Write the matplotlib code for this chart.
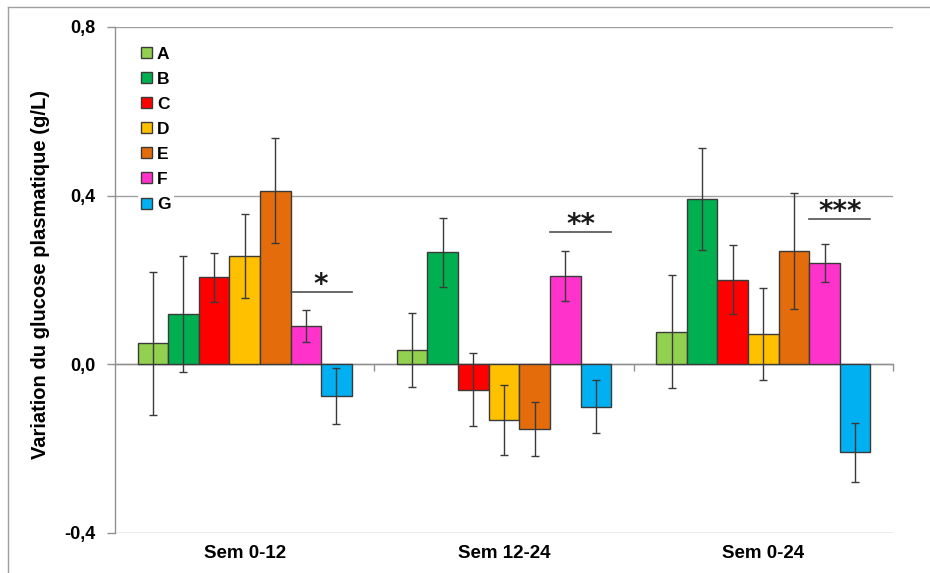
import matplotlib
matplotlib.use("Agg")
import matplotlib.pyplot as plt
import numpy as np
from matplotlib.patches import Patch
from matplotlib.lines import Line2D

plt.rcParams['font.family'] = ['Liberation Sans', 'DejaVu Sans']

categories = ["Sem 0-12", "Sem 12-24", "Sem 0-24"]
groups = ["A", "B", "C", "D", "E", "F", "G"]
colors = ["#92D050", "#00B050", "#FF0000", "#FFC000", "#E46C0A", "#FF33CC", "#00B0F0"]

values = {
    "A": [0.050, 0.034, 0.077],
    "B": [0.120, 0.266, 0.391],
    "C": [0.206, -0.060, 0.201],
    "D": [0.257, -0.133, 0.072],
    "E": [0.412, -0.153, 0.269],
    "F": [0.090, 0.209, 0.240],
    "G": [-0.075, -0.100, -0.208],
}
errors = {
    "A": [0.170, 0.088, 0.134],
    "B": [0.137, 0.082, 0.121],
    "C": [0.059, 0.086, 0.082],
    "D": [0.099, 0.083, 0.110],
    "E": [0.125, 0.064, 0.137],
    "F": [0.038, 0.059, 0.045],
    "G": [0.066, 0.062, 0.070],
}
sig_y = [0.171, 0.314, 0.345]
sig_labels = ["*", "**", "***"]

fig = plt.figure(figsize=(9.30, 5.73), dpi=100)
ax = fig.add_axes([115/930, 1 - 533/573, (893-115)/930, (533-27)/573])

x = np.arange(len(categories))
w = 0.118
edge = "#3a3a3a"
for j, g in enumerate(groups):
    ax.bar(x + (j - 3) * w, values[g], width=w, color=colors[j], edgecolor=edge,
           linewidth=1.0, zorder=3, label=g)
    ax.errorbar(x + (j - 3) * w, values[g], yerr=errors[g], fmt="none",
                ecolor="#3a3a3a", elinewidth=1.0, capsize=3, capthick=1.0, zorder=4)

# significance markers
for i in range(len(categories)):
    x0 = x[i] + 1.5 * w
    x1 = x[i] + 3.5 * w
    ax.plot([x0, x1], [sig_y[i], sig_y[i]], color="#505050", lw=1.2, zorder=4)
    ax.text((x0 + x1) / 2, sig_y[i] - 0.002, sig_labels[i], ha="center", va="baseline",
            fontsize=20, fontweight="bold", color="#1a1a1a", family="DejaVu Sans")

ax.set_xlim(-0.5, 2.5)
ax.set_ylim(-0.4, 0.8)
ax.set_yticks([-0.4, 0.0, 0.4, 0.8])
ax.set_yticklabels(["-0,4", "0,0", "0,4", "0,8"], fontsize=13, fontweight="bold")
ax.yaxis.grid(True, color="#A0A0A0", lw=1.0, zorder=0)
ax.set_axisbelow(True)

gray = "#909090"
for s in ["top", "right"]:
    ax.spines[s].set_visible(False)
ax.spines["left"].set_color(gray)
ax.spines["bottom"].set_color(gray)
ax.spines["bottom"].set_position(("data", 0))
ax.spines["left"].set_linewidth(1.0)
ax.spines["bottom"].set_linewidth(1.0)
ax.tick_params(axis="y", color=gray, length=6, width=1.0, pad=8)

ax.set_xticks([0.5, 1.5, 2.5])
ax.set_xticklabels([])
ax.tick_params(axis="x", color=gray, length=5, width=1.0, direction="out")
for i, c in enumerate(categories):
    ax.text(x[i], -0.04, c, transform=ax.get_xaxis_transform(), ha="center", va="center",
            fontsize=13.5, fontweight="bold")

ax.set_ylabel("Variation du glucose plasmatique (g/L)", fontsize=14.5, fontweight="bold")
ax.yaxis.set_label_coords(-0.084, 0.51)

handles = [Patch(facecolor=colors[j], edgecolor=edge, linewidth=1.0) for j in range(len(groups))]
leg = ax.legend(handles, groups, loc="upper left", bbox_to_anchor=(0.018, 0.985),
                frameon=True, fancybox=False, edgecolor="none", facecolor="white",
                framealpha=1.0, handlelength=0.6, handleheight=0.6, handletextpad=0.3,
                labelspacing=0.58, borderpad=0.2,
                prop={"size": 12.5, "weight": "bold"})
leg.set_zorder(5)

# figure border (left and top)
fig.add_artist(Line2D([8/930, 8/930], [0, 1 - 7/573], color="#A0A0A0", lw=1.0,
                      transform=fig.transFigure))
fig.add_artist(Line2D([8/930, 1], [1 - 7/573, 1 - 7/573], color="#A0A0A0", lw=1.0,
                      transform=fig.transFigure))

fig.savefig("out.png", dpi=100)
